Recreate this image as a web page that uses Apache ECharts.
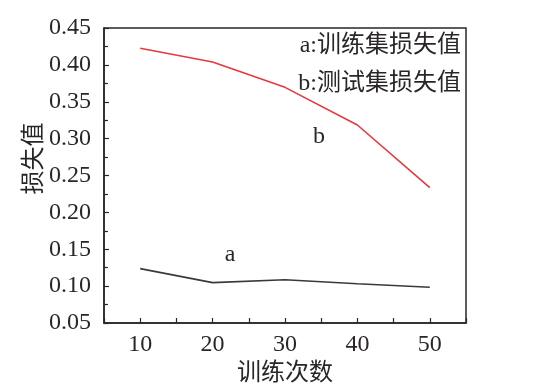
<!DOCTYPE html>
<html><head><meta charset="utf-8">
<script src="https://cdn.jsdelivr.net/npm/echarts@6/dist/echarts.min.js"></script>
<style>html,body{margin:0;padding:0;background:#fff}#c{width:549px;height:391px}</style>
</head><body><div id="c"></div>
<script>
const epochs = [10, 20, 30, 40, 50];
const trainLoss = [0.1237, 0.1047, 0.1087, 0.1033, 0.0984];
const testLoss = [0.4225, 0.404, 0.3695, 0.3185, 0.2335];
const curveLabels = [[22.4, 0.142, 'a'], [34.7, 0.302, 'b']];
const legendTexts = ['a:训练集损失值', 'b:测试集损失值'];
const xName = '训练次数', yName = '损失值';

const serif = '"Liberation Serif","DejaVu Serif","Noto Sans CJK SC",serif';
const ink = '#2a2627';
const chart = echarts.init(document.getElementById('c'));
chart.setOption({
  animation: false,
  grid: {left: 104, right: 83, top: 28, bottom: 68, outerBoundsMode: 'none', containLabel: false,
         show: true, borderColor: ink, borderWidth: 1.5, backgroundColor: 'transparent'},
  xAxis: {
    type: 'value', min: 5, max: 55, interval: 5,
    name: xName, nameLocation: 'middle', nameGap: 38,
    nameTextStyle: {fontFamily: serif, fontSize: 24, color: ink},
    axisLine: {lineStyle: {color: ink, width: 1.5}},
    axisTick: {inside: true, length: 5, lineStyle: {color: ink, width: 1.2}},
    splitLine: {show: false},
    axisLabel: {fontFamily: serif, fontSize: 24, color: ink, margin: 10,
      formatter: v => (v % 10 === 0 && v >= 10 && v <= 50) ? String(v) : ''}
  },
  yAxis: {
    type: 'value', min: 0.05, max: 0.45, interval: 0.05,
    name: yName, nameLocation: 'middle', nameGap: 57, nameRotate: 90, nameMoveOverlap: false,
    nameTextStyle: {fontFamily: serif, fontSize: 24, color: ink, padding: [0, 0, 0, 34]},
    axisLine: {show: true, lineStyle: {color: ink, width: 1.5}},
    axisTick: {inside: true, length: 5, lineStyle: {color: ink, width: 1.2}},
    minorTick: {show: true, splitNumber: 2, length: 4, lineStyle: {color: ink, width: 1.2}},
    splitLine: {show: false},
    axisLabel: {fontFamily: serif, fontSize: 24, color: ink, margin: 13, formatter: v => v.toFixed(2)}
  },
  graphic: legendTexts.map((t, i) => ({
    type: 'text', right: 88, top: 34 + i * 38,
    style: {text: t, font: '24px ' + serif, fill: ink, textAlign: 'right'}
  })),
  series: [
    {type: 'line', data: epochs.map((e, i) => [e, testLoss[i]]), symbol: 'none',
     lineStyle: {color: '#e8383d', width: 1.6}},
    {type: 'line', data: epochs.map((e, i) => [e, trainLoss[i]]), symbol: 'none',
     lineStyle: {color: '#3a3a3a', width: 1.6}},
    {type: 'scatter', symbolSize: 0, itemStyle: {opacity: 1}, data: curveLabels.map(d => [d[0], d[1], d[2]]),
     label: {show: true, position: 'inside', formatter: p => p.data[2], fontFamily: serif, fontSize: 24, color: ink}}
  ]
});
</script></body></html>
